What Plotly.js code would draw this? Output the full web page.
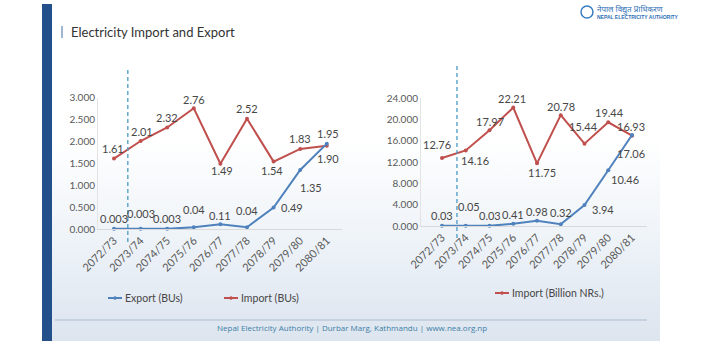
<!DOCTYPE html>
<html>
<head>
<meta charset="utf-8">
<script src="https://cdn.plot.ly/plotly-3.0.1.min.js"></script>
<style>
  html, body { margin:0; padding:0; background:#ffffff; }
  #wrap { position:relative; width:708px; height:356px; overflow:hidden; }
  #slide { position:absolute; left:52px; top:4px; width:608px; height:337px;
    background: linear-gradient(to bottom, #ffffff 0%, #ffffff 40%, #eef3f8 70%, #e2e9f2 90%, #dde5ef 100%); }
  #bar { position:absolute; left:42px; top:4px; width:10px; height:337px; background:#234f8a; }
  #chart { position:absolute; left:0; top:0; width:708px; height:356px; }
</style>
</head>
<body>
<div id="wrap">
  <div id="slide"></div>
  <div id="bar"></div>
  <div id="chart"></div>
</div>
<script>
// ---------------- DATA ----------------
const years = ['2072/73','2073/74','2074/75','2075/76','2076/77','2077/78','2078/79','2079/80','2080/81'];
const exportBU  = [0.003, 0.003, 0.003, 0.04, 0.11, 0.04, 0.49, 1.35, 1.95];
const importBU  = [1.61, 2.01, 2.32, 2.76, 1.49, 2.52, 1.54, 1.83, 1.90];
const exportNRs = [0.03, 0.05, 0.03, 0.41, 0.98, 0.32, 3.94, 10.46, 17.06];
const importNRs = [12.76, 14.16, 17.97, 22.21, 11.75, 20.78, 15.44, 19.44, 16.93];
const leftTicks  = [0, 0.5, 1, 1.5, 2, 2.5, 3];
const rightTicks = [0, 4, 8, 12, 16, 20, 24];

// ---------------- STYLE ----------------
const RED = '#c0504d', BLUE = '#4f81bd';
const FONT = 'Lato, "Open Sans", sans-serif';
const W = 708, H = 356;
const px = v => v / W, py = v => 1 - v / H;

// label offsets (px): [dx, dy-up]
const offExportBU  = [[0,10],[0,15],[0,10],[0,18],[0,9],[0,17],[18,0],[11,-18],[1,10]];
const offImportBU  = [[-1,10],[1,10],[0,10],[0,9],[2,-7],[0,10],[-2,-9],[0,10],[1,-13]];
const offExportNRs = [[0,10],[3,19],[0,10],[0,9],[0,9],[0,12],[18,-5],[17,-9],[-1,-18]];
const offImportNRs = [[-5,13],[9,-10],[0,9],[-1,9],[5,-9],[0,9],[-1,17],[1,10],[-1,9]];

function fmtBU(v){ return v < 0.01 ? v.toFixed(3) : v.toFixed(2); }
function fmtNR(v){ return v.toFixed(2); }

function line(x, y, color, xa, ya, name){
  return { x:x, y:y, type:'scatter', mode:'lines+markers', name:name,
    xaxis:xa, yaxis:ya, showlegend:false, cliponaxis:false,
    line:{color:color, width:2}, marker:{color:color, size:4} };
}

const traces = [
  line(years, importBU, RED, 'x', 'y', 'Import (BUs)'),
  line(years, exportBU, BLUE, 'x', 'y', 'Export (BUs)'),
  line(years, importNRs, RED, 'x2', 'y2', 'Import (Billion NRs.)'),
  line(years, exportNRs, BLUE, 'x2', 'y2', 'Export (Billion NRs.)')
];

const LABEL_COLOR = '#474747';
const annotations = [];
function addLabels(vals, offs, fmt, xr, yr){
  vals.forEach((v, i) => {
    annotations.push({ x: years[i], y: v, xref: xr, yref: yr, text: fmt(v),
      showarrow:false, xanchor:'center', yanchor:'middle',
      xshift: offs[i][0], yshift: offs[i][1],
      font:{family:FONT, size:11, color:LABEL_COLOR} });
  });
}
addLabels(importBU, offImportBU, fmtBU, 'x', 'y');
addLabels(exportBU, offExportBU, fmtBU, 'x', 'y');
addLabels(importNRs, offImportNRs, fmtNR, 'x2', 'y2');
addLabels(exportNRs, offExportNRs, fmtNR, 'x2', 'y2');

// title
annotations.push({ xref:'paper', yref:'paper', x:px(69), y:py(32), xanchor:'left', yanchor:'middle',
  text:'Electricity Import and Export', showarrow:false,
  font:{family:FONT, size:13, color:'#333333'} });
// footer
annotations.push({ xref:'paper', yref:'paper', x:px(352), y:py(327), xanchor:'center', yanchor:'middle',
  text:'Nepal Electricity Authority | Durbar Marg, Kathmandu | www.nea.org.np', showarrow:false,
  font:{family:'"Open Sans", sans-serif', size:8, color:'#3d7ea6'} });
// logo texts
annotations.push({ xref:'paper', yref:'paper', x:px(595), y:py(9), xanchor:'left', yanchor:'middle',
  text:'नेपाल विद्युत प्राधिकरण', showarrow:false,
  font:{family:'"Noto Sans", sans-serif', size:8, color:'#2e6fb5'} });
annotations.push({ xref:'paper', yref:'paper', x:px(595), y:py(17), xanchor:'left', yanchor:'middle',
  text:'<b>NEPAL ELECTRICITY AUTHORITY</b>', showarrow:false,
  font:{family:'"Liberation Sans", sans-serif', size:5, color:'#2e6fb5'} });

const shapes = [
  // title small bar
  { type:'line', xref:'paper', yref:'paper', x0:px(62), x1:px(62), y0:py(26), y1:py(38), line:{color:'#7f9cc0', width:1.5} },
  // footer rule
  { type:'line', xref:'paper', yref:'paper', x0:px(55), x1:px(647), y0:py(320), y1:py(320), line:{color:'#a9bccd', width:1} },
  // dashed separators
  { type:'line', xref:'x', yref:'paper', x0:0.52, x1:0.52, y0:py(70), y1:py(245), line:{color:'#4a9bc4', width:1.3, dash:'4px,3px'} },
  { type:'line', xref:'x2', yref:'paper', x0:0.63, x1:0.63, y0:py(66), y1:py(238), line:{color:'#4a9bc4', width:1.3, dash:'4px,3px'} },
  // logo circle
  { type:'circle', xref:'paper', yref:'paper', x0:px(581), x1:px(593), y0:py(6), y1:py(18), fillcolor:'#ffffff', line:{color:'#3a7dbf', width:1.5} }
];

// manual legends
function legendItem(x0, yc, color, label){
  annotations.push({ xref:'paper', yref:'paper', x:px(x0+15), y:py(yc), xanchor:'left', yanchor:'middle',
    text:label, showarrow:false, font:{family:FONT, size:10.5, color:LABEL_COLOR} });
  shapes.push({ type:'line', xref:'paper', yref:'paper', x0:px(x0), x1:px(x0+14), y0:py(yc), y1:py(yc),
    line:{color:color, width:2} });
  shapes.push({ type:'circle', xref:'paper', yref:'paper', x0:px(x0+5.5), x1:px(x0+8.5), y0:py(yc-1.5), y1:py(yc+1.5),
    fillcolor:color, line:{color:color, width:0.5} });
}
legendItem(108, 298, BLUE, 'Export (BUs)');
legendItem(224, 298, RED, 'Import (BUs)');
legendItem(495, 293, RED, 'Import (Billion NRs.)');

const tickFont = {family:FONT, size:10, color:'#595959'};
const xTickFont = {family:FONT, size:11, color:'#595959'};
const xBase = { type:'category', tickangle:-45, tickfont:xTickFont, showgrid:false, zeroline:false,
  showline:true, linecolor:'#d9d9d9', linewidth:1, ticks:'', fixedrange:true };
const yBase = { tickfont:tickFont, showgrid:false, zeroline:false, showline:true, linecolor:'#e3e3e3',
  linewidth:1, ticks:'', tickformat:'.3f', fixedrange:true };

const layout = {
  width:W, height:H, margin:{l:0, r:0, t:0, b:0},
  paper_bgcolor:'rgba(0,0,0,0)', plot_bgcolor:'rgba(0,0,0,0)',
  showlegend:false,
  xaxis: Object.assign({}, xBase, {domain:[px(98), px(342)], anchor:'y'}),
  yaxis: Object.assign({}, yBase, {domain:[py(229), py(97.7)], range:[0,3], tickvals:leftTicks, anchor:'x'}),
  xaxis2: Object.assign({}, xBase, {domain:[px(421), px(647)], anchor:'y2'}),
  yaxis2: Object.assign({}, yBase, {domain:[py(226), py(98)], range:[0,24], tickvals:rightTicks, anchor:'x2'}),
  annotations: annotations,
  shapes: shapes
};

Plotly.newPlot('chart', traces, layout, {displayModeBar:false, staticPlot:true});
</script>
</body>
</html>
